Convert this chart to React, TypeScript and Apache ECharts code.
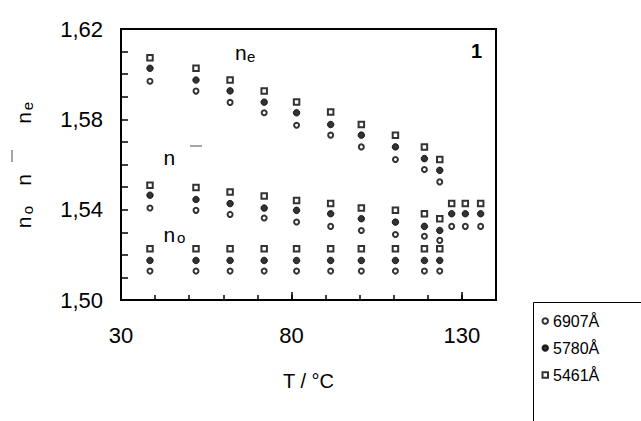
import React, { useEffect, useRef } from "react";
import * as echarts from "echarts";

// Temperatures (°C) of the measured columns
const anisoT = [38.5, 52, 62, 72, 81.5, 91.5, 100.5, 110.5, 119, 123.5];
const isoT = [127, 131, 135.5];

// Extraordinary index n_e
const ne6907 = [1.5969, 1.5925, 1.5875, 1.5829, 1.5774, 1.573, 1.5678, 1.5622, 1.5578, 1.5523];
const ne5780 = [1.6026, 1.5974, 1.5926, 1.5876, 1.5829, 1.5777, 1.573, 1.5678, 1.5626, 1.5574];
const ne5461 = [1.6073, 1.6026, 1.5974, 1.5926, 1.5877, 1.5833, 1.5777, 1.573, 1.5678, 1.5622];

// Mean index n (nematic)
const nm6907 = [1.5407, 1.5397, 1.5379, 1.5363, 1.5345, 1.5326, 1.5308, 1.529, 1.5282, 1.5264];
const nm5780 = [1.5464, 1.5445, 1.5427, 1.5407, 1.5397, 1.5382, 1.536, 1.5345, 1.5326, 1.5308];
const nm5461 = [1.5508, 1.5498, 1.5478, 1.546, 1.5441, 1.5427, 1.5407, 1.5397, 1.5382, 1.536];

// Isotropic phase
const iso6907 = [1.5326, 1.5326, 1.5326];
const iso5780 = [1.5382, 1.5382, 1.5382];
const iso5461 = [1.5427, 1.5427, 1.5427];

// Ordinary index n_o
const no6907 = [1.5128, 1.5128, 1.5128, 1.5128, 1.5128, 1.5128, 1.5128, 1.5128, 1.5128, 1.5128];
const no5780 = [1.5175, 1.5175, 1.5175, 1.5175, 1.5175, 1.5175, 1.5175, 1.5175, 1.5175, 1.5175];
const no5461 = [1.5227, 1.5227, 1.5227, 1.5227, 1.5227, 1.5227, 1.5227, 1.5227, 1.5227, 1.5227];

const wavelengths = ["6907Å", "5780Å", "5461Å"];
const yLabelTicks = [1.5, 1.54, 1.58, 1.62];
const xLabelTicks = [30, 80, 130];
const xMajorTicks = [80, 130];

const FONT = "'Liberation Sans', Arial, sans-serif";

function pts(ts: number[], vs: number[]) {
  return ts.map((t, i) => [t, vs[i]]);
}

const groups = [
  [ne6907, nm6907, no6907, iso6907],
  [ne5780, nm5780, no5780, iso5780],
  [ne5461, nm5461, no5461, iso5461],
];

export default function App() {
  const ref = useRef<HTMLDivElement>(null);
  useEffect(() => {
    if (!ref.current) return;
    const chart = echarts.init(ref.current, undefined, { renderer: "svg" });

    const styles = [
      { symbol: "circle", symbolSize: 5, itemStyle: { color: "#fff", borderColor: "#000", borderWidth: 2 } },
      { symbol: "circle", symbolSize: 6.5, itemStyle: { color: "#000", borderColor: "#000", borderWidth: 1 } },
      { symbol: "rect", symbolSize: 5.5, itemStyle: { color: "#fff", borderColor: "#000", borderWidth: 2 } },
    ];

    const series = wavelengths.map((name, i) => {
      const [ne, nm, no, iso] = groups[i];
      return {
        name,
        type: "scatter",
        ...styles[i],
        data: [...pts(anisoT, ne), ...pts(anisoT, nm), ...pts(anisoT, no), ...pts(isoT, iso)],
        z: 3 + i,
      };
    });

    const txt = (text: string, x: number, y: number, size: number, extra: any = {}) => ({
      type: "text",
      x,
      y,
      rotation: extra.rotation || 0,
      style: {
        text,
        fill: "#000",
        fontFamily: FONT,
        fontSize: size,
        fontWeight: extra.bold ? "bold" : "normal",
        align: extra.align || "left",
        verticalAlign: "middle",
      },
      z: 10,
    });

    const R = Math.PI / 2;

    const option: any = {
      animation: false,
      grid: {
        left: 121,
        top: 29,
        width: 375,
        height: 271,
        show: true,
        borderColor: "#000",
        borderWidth: 2,
        backgroundColor: "transparent",
      },
      xAxis: [
        {
          type: "value",
          min: 30,
          max: 140,
          interval: 10,
          name: "T / °C",
          nameLocation: "middle",
          nameGap: 71,
          nameTextStyle: { fontFamily: FONT, fontSize: 20, color: "#000" },
          axisLine: { show: true, lineStyle: { color: "#000", width: 2 } },
          axisTick: { show: true, inside: true, length: 5, lineStyle: { color: "#000", width: 1.5 } },
          axisLabel: {
            fontFamily: FONT,
            fontSize: 22,
            color: "#000",
            margin: 24,
            formatter: (v: number) => (xLabelTicks.includes(Math.round(v)) ? String(Math.round(v)) : ""),
          },
          splitLine: { show: false },
        },
        {
          type: "value",
          min: 30,
          max: 140,
          position: "bottom",
          axisLine: { show: false },
          axisTick: { show: true, inside: true, length: 8, customValues: xMajorTicks, lineStyle: { color: "#000", width: 1.5 } },
          axisLabel: { show: false },
          splitLine: { show: false },
        },
      ],
      yAxis: {
        type: "value",
        min: 1.5,
        max: 1.62,
        interval: 0.01,
        axisLine: { show: true, lineStyle: { color: "#000", width: 2 } },
        axisTick: { show: true, inside: true, length: 7, lineStyle: { color: "#000", width: 1.5 } },
        axisLabel: {
          fontFamily: FONT,
          fontSize: 22,
          color: "#000",
          margin: 18,
          formatter: (v: number) => {
            const hit = yLabelTicks.find((t) => Math.abs(t - v) < 1e-6);
            return hit !== undefined ? hit.toFixed(2).replace(".", ",") : "";
          },
        },
        splitLine: { show: false },
      },
      legend: {
        show: true,
        data: wavelengths,
        orient: "vertical",
        left: 541.5,
        top: 313,
        padding: 0,
        itemGap: 11,
        itemWidth: 5.5,
        itemHeight: 5.5,
        selectedMode: false,
        textStyle: { fontFamily: FONT, fontSize: 16, lineHeight: 16, color: "#000" },
      },
      series,
      graphic: [
        // legend frame (runs off the right and bottom edges as in the reference)
        { type: "rect", shape: { x: 533.5, y: 302.5, width: 200, height: 140 }, style: { fill: "none", stroke: "#000", lineWidth: 1 }, z: 1 },
        // labels inside the plot
        txt("n", 235, 52, 21),
        txt("e", 247, 56, 15),
        txt("n", 163.5, 157, 21),
        { type: "line", shape: { x1: 190, y1: 146, x2: 202, y2: 146 }, style: { stroke: "#888", lineWidth: 1.5 }, z: 10 },
        txt("n", 163.5, 234, 21),
        txt("o", 177, 237.7, 15),
        txt("1", 476.5, 50.5, 20, { bold: true, align: "center" }),
        // y axis title (rotated)
        txt("n", 23, 222.5, 21, { rotation: R, align: "center" }),
        txt("o", 27.7, 210, 15, { rotation: R, align: "center" }),
        txt("n", 23, 180, 21, { rotation: R, align: "center" }),
        { type: "line", shape: { x1: 12, y1: 150, x2: 12, y2: 162 }, style: { stroke: "#888", lineWidth: 1.5 }, z: 10 },
        txt("n", 23, 118, 21, { rotation: R, align: "center" }),
        txt("e", 27.7, 106, 15, { rotation: R, align: "center" }),
      ],
    };

    chart.setOption(option);
    return () => chart.dispose();
  }, []);

  return (
    <div
      ref={ref}
      style={{ position: "absolute", left: 0, top: 0, width: 641, height: 421, background: "#fff" }}
    />
  );
}
